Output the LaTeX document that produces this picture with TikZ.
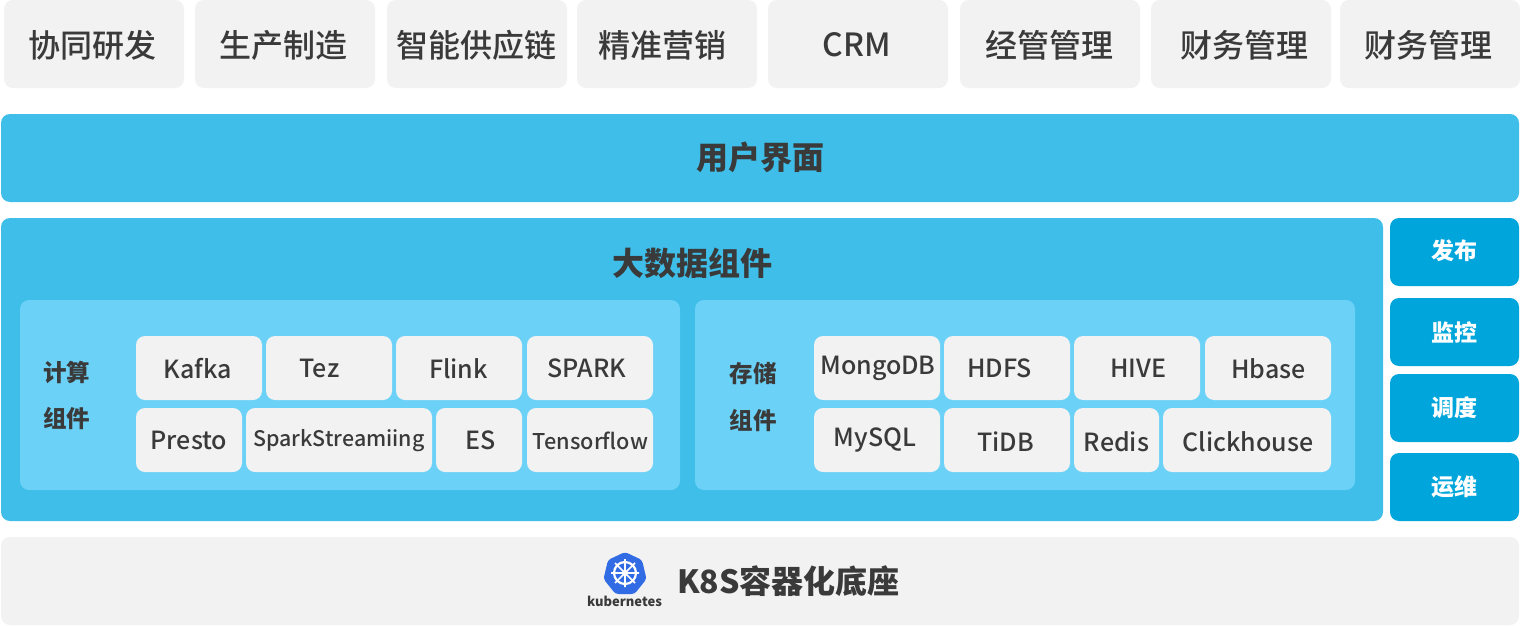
\documentclass[tikz,border=0pt]{standalone}
\usepackage{fontspec}
\setmainfont{Noto Sans CJK SC}
\newfontfamily\cjkm{Noto Sans CJK SC Medium}
\newcommand{\cjkb}{\normalfont\bfseries}
\definecolor{gbox}{HTML}{F2F2F2}
\definecolor{blueA}{HTML}{3EBEE8}
\definecolor{blueB}{HTML}{6CD1F7}
\definecolor{blueC}{HTML}{00A6DB}
\definecolor{txt}{HTML}{3A3A3A}
\definecolor{kblue}{HTML}{326CE5}
\tikzset{
 rbox/.style={rounded corners=9pt,inner sep=0pt,outer sep=0pt,anchor=north west},
 tlabel/.style={text=txt,inner sep=0pt,font=\cjkm\fontsize{32}{32}\selectfont},
 hlabel/.style={text=txt,inner sep=0pt,font=\cjkb\fontsize{32}{32}\selectfont},
 ilabel/.style={text=txt,inner sep=0pt,font=\cjkm\fontsize{25}{25}\selectfont},
 slabel/.style={text=white,inner sep=0pt,font=\cjkb\fontsize{23}{23}\selectfont},
 clabel/.style={text=txt,inner sep=0pt,font=\cjkb\fontsize{23.5}{23.5}\selectfont},
}
\usetikzlibrary{calc}
% #1 fill, #2 name, #3 x0, #4 y0, #5 x1, #6 y1
\newcommand{\mybox}[6]{\path let \n1={#5-#3}, \n2={#6-#4} in node[rbox,fill=#1,minimum width=\n1 pt,minimum height=\n2 pt] (#2) at (#3,#4) {};}
\newcommand{\topb}[5]{\mybox{gbox}{#1}{#2}{0}{#3}{88}\node[tlabel] (#1t) at (#4,45) {#5};}
\newcommand{\itemb}[8]{\mybox{gbox}{#1}{#2}{#3}{#4}{#5}\node[ilabel] (#1t) at (#6,#7) {#8};}
\newcommand{\sideb}[5]{\mybox{blueC}{#1}{1390}{#2}{1519}{#3}\node[slabel] (#1t) at (1454.5,#5) {#4};}
\begin{document}
\begin{tikzpicture}[x=1pt,y=-1pt]
\useasboundingbox (0,0) rectangle (1520,626);
\fill[white] (0,0) rectangle (1520,626);
\topb{a}{4}{184}{92.5}{协同研发}
\topb{b}{195}{375}{283}{生产制造}
\topb{c}{387}{567}{476}{智能供应链}
\topb{d}{577}{757}{662}{精准营销}
\topb{e}{768}{948}{857}{CRM}
\topb{f}{960}{1140}{1049}{经管管理}
\topb{g}{1151}{1331}{1244}{财务管理}
\topb{h}{1340}{1520}{1428}{财务管理}
\mybox{blueA}{ui}{1}{114}{1519}{202}
\node[hlabel] (uit) at (760,157) {用户界面};
\mybox{blueA}{big}{1}{218}{1383}{521}
\node[hlabel] (bigt) at (692,263) {大数据组件};
\mybox{blueB}{cmp}{20}{300}{680}{490}
\mybox{blueB}{sto}{695}{300}{1355}{490}
\node[clabel] (c1) at (66.5,372) {计算};
\node[clabel] (c2) at (66.5,418) {组件};
\node[clabel] (s1) at (753,374) {存储};
\node[clabel] (s2) at (753,420) {组件};
\itemb{i1}{136}{336}{262}{400}{197.5}{368.5}{Kafka}
\itemb{i2}{266}{336}{392}{400}{319.5}{368.5}{Tez}
\itemb{i3}{396}{336}{522}{400}{458.5}{368.5}{Flink}
\itemb{i4}{527}{336}{653}{400}{587}{368.5}{SPARK}
\itemb{i5}{136}{408}{242}{472}{189}{440.5}{Presto}
\mybox{gbox}{i6}{246}{408}{432}{472}\node[ilabel,font=\cjkm\fontsize{21.4}{21.4}\selectfont] (i6t) at (339,441) {SparkStreamiing};
\itemb{i7}{436}{408}{522}{472}{481}{440.5}{ES}
\mybox{gbox}{i8}{527}{408}{653}{472}\node[ilabel,font=\cjkm\fontsize{21.7}{21.7}\selectfont] (i8t) at (590.5,441) {Tensorflow};
\itemb{j1}{814}{336}{940}{400}{878}{368}{MongoDB}
\itemb{j2}{944}{336}{1070}{400}{999.5}{368.5}{HDFS}
\itemb{j3}{1074}{336}{1200}{400}{1138.5}{368.5}{HIVE}
\itemb{j4}{1205}{336}{1331}{400}{1268.5}{368.5}{Hbase}
\itemb{j5}{814}{408}{940}{472}{875}{440}{MySQL}
\itemb{j6}{944}{408}{1070}{472}{1005.5}{441.5}{TiDB}
\itemb{j7}{1074}{408}{1159}{472}{1116.5}{441.5}{Redis}
\itemb{j8}{1163}{408}{1331}{472}{1248}{441.5}{Clickhouse}
\sideb{p1}{218}{286}{发布}{251}
\sideb{p2}{298}{366}{监控}{332}
\sideb{p3}{374}{442}{调度}{408}
\sideb{p4}{453}{521}{运维}{487}
\mybox{gbox}{k8s}{1}{537}{1519}{625}
\node[hlabel] (k8st) at (788.5,581) {K8S容器化底座};
% kubernetes logo
\fill[kblue,rounded corners=3pt] (625,552) -- (642,560) -- (646.5,579) -- (634.5,594) -- (615.5,594) -- (603.5,579) -- (608,560) -- cycle;
\draw[white,line width=2.2pt] (625,573) circle (11);
\draw[white,line width=1.6pt] (625,559) -- (625,587) (611,573) -- (639,573) (615,563) -- (635,583) (635,563) -- (615,583);
\fill[white] (625,573) circle (3);
\node[text=txt,inner sep=0pt,font=\cjkb\fontsize{13}{13}\selectfont] (kub) at (624.5,601) {kubernetes};
\end{tikzpicture}
\end{document}
